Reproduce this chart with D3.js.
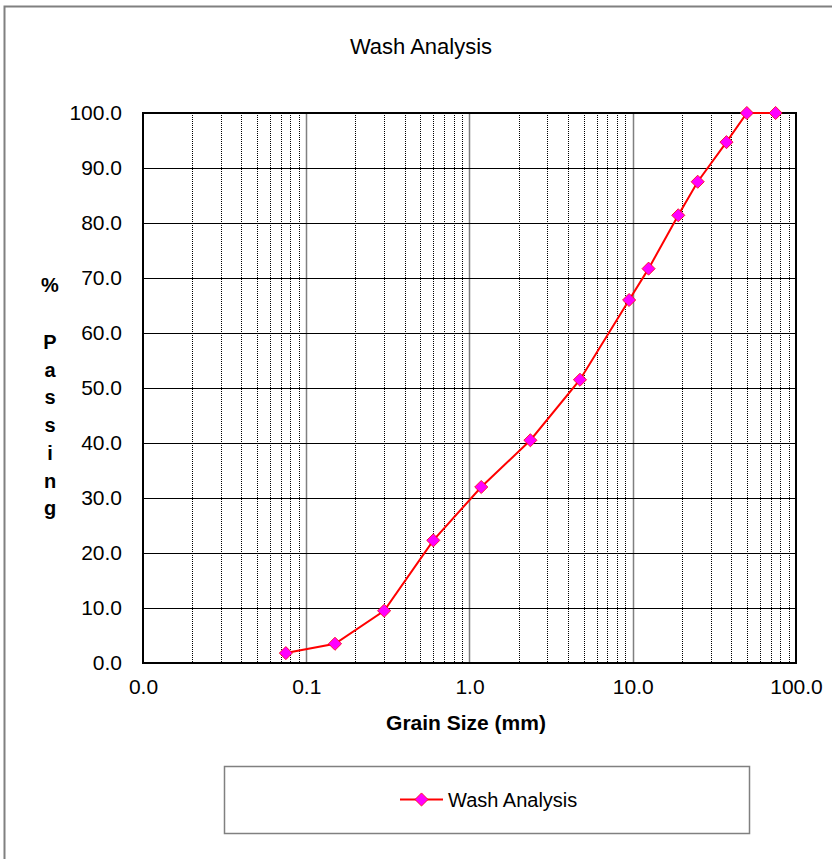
<!DOCTYPE html>
<html>
<head>
<meta charset="utf-8">
<script src="https://cdn.jsdelivr.net/npm/d3@7"></script>
<style>
  body { margin: 0; background: #fff; }
  svg text { font-family: Arial, "Liberation Sans", sans-serif; }
</style>
</head>
<body>
<div id="chart"></div>
<script>
// sieve sizes (mm) and percent passing
const sizes = [0.075, 0.15, 0.3, 0.6, 1.18, 2.36, 4.75, 9.5, 12.5, 19, 25, 37.5, 50, 75];
const passing = [1.8, 3.5, 9.5, 22.3, 32.0, 40.5, 51.5, 66.0, 71.7, 81.4, 87.5, 94.7, 100.0, 100.0];
const xTicks = [0.01, 0.1, 1, 10, 100];
const yTicks = [0, 10, 20, 30, 40, 50, 60, 70, 80, 90, 100];
const seriesName = "Wash Analysis";

const W = 832, H = 859;
const margin = {top: 113, right: 36, bottom: 196, left: 143};

const svg = d3.select("#chart").append("svg")
  .attr("width", W).attr("height", H);

// outer chart frame (runs off right/bottom)
svg.append("path")
  .attr("d", `M4.5,${H + 2} V6.5 H${W + 2}`)
  .attr("fill", "none").attr("stroke", "#808080").attr("stroke-width", 2);

const x = d3.scaleLog().domain([0.01, 100]).range([margin.left, W - margin.right]);
const y = d3.scaleLinear().domain([0, 100]).range([H - margin.bottom, margin.top]);

// minor vertical grid
const minor = [];
for (let dec = 0.01; dec < 100; dec *= 10)
  for (let k = 2; k <= 9; k++) minor.push(dec * k);

svg.append("g").selectAll("line").data(minor).join("line")
  .attr("x1", d => Math.round(x(d)) + 0.5).attr("x2", d => Math.round(x(d)) + 0.5)
  .attr("y1", y(100)).attr("y2", y(0))
  .attr("stroke", "#000").attr("stroke-width", 1).attr("stroke-dasharray", "1,1");

svg.append("g").selectAll("line").data(xTicks.slice(1, -1)).join("line")
  .attr("x1", d => Math.round(x(d)) + 0.5).attr("x2", d => Math.round(x(d)) + 0.5)
  .attr("y1", y(100)).attr("y2", y(0))
  .attr("stroke", "#808080").attr("stroke-width", 1.5);

// horizontal grid
svg.append("g").selectAll("line").data(yTicks.slice(1, -1)).join("line")
  .attr("x1", x(0.01)).attr("x2", x(100))
  .attr("y1", d => Math.round(y(d)) + 0.5).attr("y2", d => Math.round(y(d)) + 0.5)
  .attr("stroke", "#000").attr("stroke-width", 1);

// plot border
svg.append("rect")
  .attr("x", x(0.01)).attr("y", y(100))
  .attr("width", x(100) - x(0.01)).attr("height", y(0) - y(100))
  .attr("fill", "none").attr("stroke", "#000").attr("stroke-width", 2);

// axes
const yAxis = d3.axisLeft(y).tickValues(yTicks).tickFormat(d3.format(".1f")).tickSize(0).tickPadding(21);
svg.append("g").attr("transform", `translate(${margin.left},0)`).call(yAxis)
  .call(g => g.select(".domain").remove())
  .selectAll("text").attr("font-size", 21).attr("fill", "#000");

const xAxis = d3.axisBottom(x).tickValues(xTicks).tickFormat(d3.format(".1f")).tickSize(0).tickPadding(16);
svg.append("g").attr("transform", `translate(0,${H - margin.bottom})`).call(xAxis)
  .call(g => g.select(".domain").remove())
  .selectAll("text").attr("font-size", 21).attr("fill", "#000");

// title and axis labels
svg.append("text").attr("x", 421).attr("y", 54).attr("text-anchor", "middle")
  .attr("font-size", 22).text(seriesName);

svg.append("text").attr("x", 466).attr("y", 730).attr("text-anchor", "middle")
  .attr("font-size", 21).attr("font-weight", "bold").text("Grain Size (mm)");

const yLabel = ["%", "", "P", "a", "s", "s", "i", "n", "g"];
svg.append("g").selectAll("text").data(yLabel).join("text")
  .attr("x", 50).attr("y", (d, i) => i === 0 ? 292 : 349 + (i - 2) * 27.7)
  .attr("text-anchor", "middle").attr("font-size", 20).attr("font-weight", "bold")
  .text(d => d);

// series
const data = sizes.map((s, i) => [s, passing[i]]);
const line = d3.line().x(d => x(d[0])).y(d => y(d[1]));
svg.append("path").datum(data)
  .attr("d", line).attr("fill", "none").attr("stroke", "#ff0000").attr("stroke-width", 2);

const diamond = d3.symbol().type(d3.symbolDiamond2).size(110);
svg.append("g").selectAll("path").data(data).join("path")
  .attr("transform", d => `translate(${x(d[0])},${y(d[1])})`)
  .attr("d", diamond)
  .attr("fill", "#ff00ff").attr("stroke", "#ff0000").attr("stroke-width", 0.8);

// legend
const lg = svg.append("g");
lg.append("rect").attr("x", 224.5).attr("y", 766.5).attr("width", 525).attr("height", 67)
  .attr("fill", "#fff").attr("stroke", "#808080").attr("stroke-width", 1.5);
lg.append("line").attr("x1", 400).attr("x2", 443).attr("y1", 799.5).attr("y2", 799.5)
  .attr("stroke", "#ff0000").attr("stroke-width", 2);
lg.append("path").attr("transform", "translate(421.5,799.5)").attr("d", diamond)
  .attr("fill", "#ff00ff").attr("stroke", "#ff0000").attr("stroke-width", 0.8);
lg.append("text").attr("x", 448).attr("y", 807).attr("font-size", 20).text(seriesName);
</script>
</body>
</html>
